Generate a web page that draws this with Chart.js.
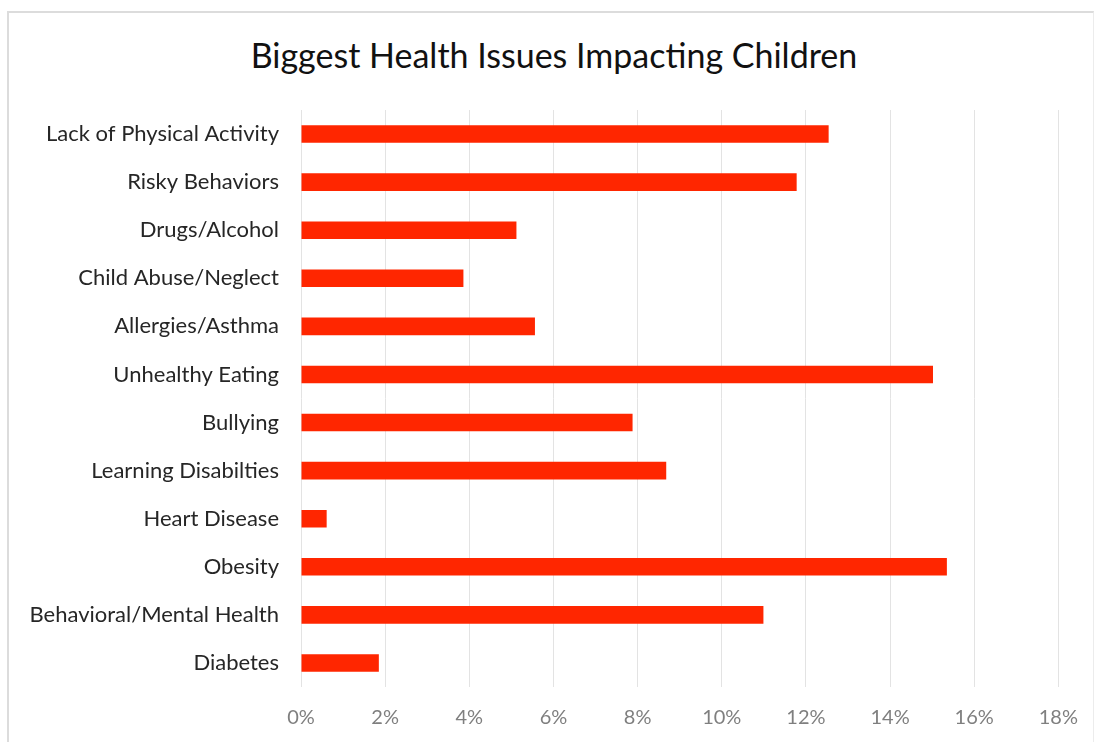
<!DOCTYPE html>
<html>
<head>
<meta charset="utf-8">
<script src="https://cdn.jsdelivr.net/npm/chart.js@4/dist/chart.umd.min.js"></script>
<style>
  html, body { margin: 0; padding: 0; background: #ffffff; overflow: hidden; }
  #frame {
    position: absolute; left: 7px; top: 11px; width: 1087px; height: 740px;
    border-top: 2px solid #dcdcdc; border-left: 2px solid #dcdcdc; border-right: 1px solid #ececec;
    box-sizing: border-box;
  }
  #title {
    position: absolute; left: 14px; width: 1080px; top: 34px; height: 42px; line-height: 42px;
    text-align: center; font-family: Lato, 'Open Sans', sans-serif; font-size: 34px;
    color: #111111; white-space: nowrap;
  }
  #wrap { position: absolute; left: 0; top: 0; width: 1097px; height: 742px; }
</style>
</head>
<body>
<div id="frame"></div>
<div id="title">Biggest Health Issues Impacting Children</div>
<div id="wrap"><canvas id="chart" width="1097" height="742"></canvas></div>
<script>
// Share of responses naming each issue (percent)
const issues = [
  "Lack of Physical Activity",
  "Risky Behaviors",
  "Drugs/Alcohol",
  "Child Abuse/Neglect",
  "Allergies/Asthma",
  "Unhealthy Eating",
  "Bullying",
  "Learning Disabilties",
  "Heart Disease",
  "Obesity",
  "Behavioral/Mental Health",
  "Diabetes"
];
const shares = [12.54, 11.78, 5.12, 3.86, 5.56, 15.02, 7.88, 8.68, 0.61, 15.35, 10.99, 1.85];
const axisMax = 18;
const axisStep = 2;

const FONT = "Lato, 'Open Sans', sans-serif";

new Chart(document.getElementById("chart"), {
  type: "bar",
  data: {
    labels: issues,
    datasets: [{
      data: shares,
      backgroundColor: "#ff2600",
      borderWidth: 0,
      categoryPercentage: 1.0,
      barPercentage: 0.365
    }]
  },
  options: {
    indexAxis: "y",
    responsive: false,
    animation: false,
    devicePixelRatio: 1,
    layout: { padding: { left: 0, right: 38, top: 110, bottom: 0 } },
    plugins: {
      legend: { display: false },
      tooltip: { enabled: false },
      title: { display: false }
    },
    scales: {
      x: {
        min: 0,
        max: axisMax,
        ticks: {
          stepSize: axisStep,
          padding: 19,
          color: "#7f7f7f",
          font: { family: FONT, size: 20 },
          callback: v => v + "%"
        },
        grid: { color: "#e3e3e3", lineWidth: 1, drawTicks: false },
        border: { display: false },
        afterFit: s => { s.height = 55; }
      },
      y: {
        ticks: {
          padding: 22,
          color: "#262626",
          font: { family: FONT, size: 22 },
          autoSkip: false
        },
        grid: { display: false, drawTicks: false },
        border: { display: false },
        afterFit: s => { s.width = 301; }
      }
    }
  }
});
</script>
</body>
</html>
